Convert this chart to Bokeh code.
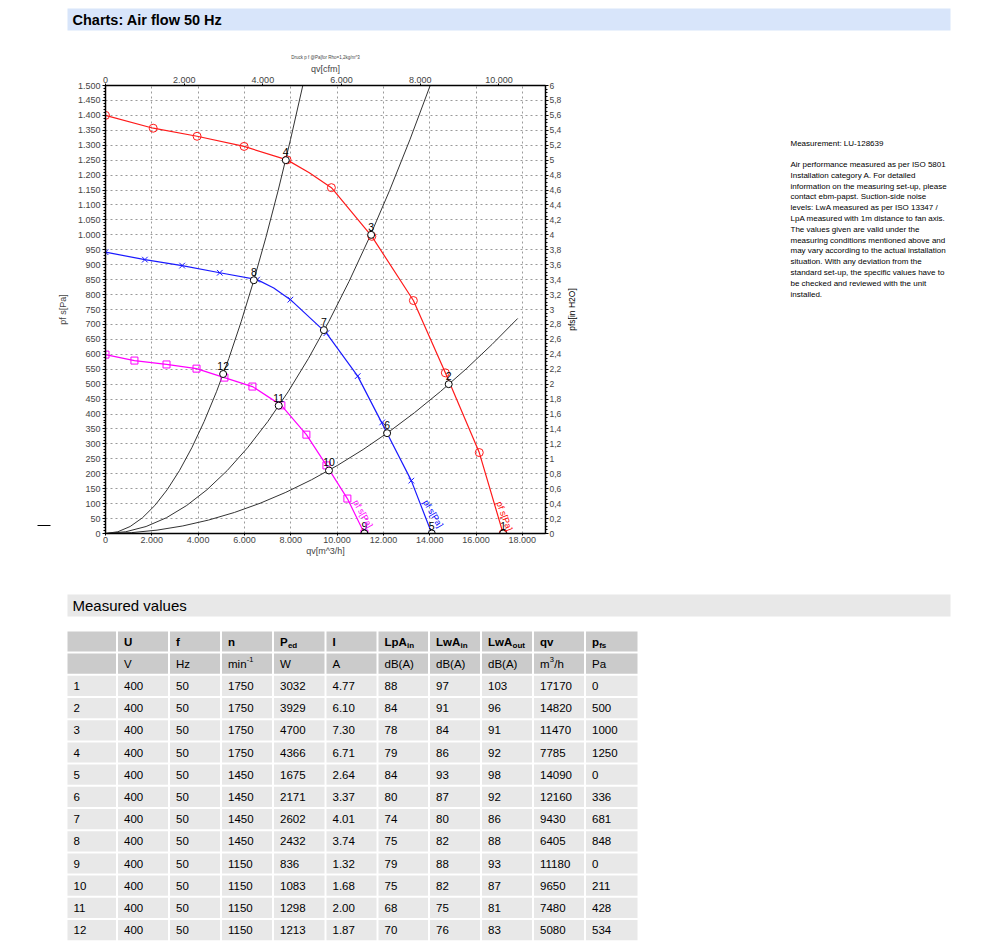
import math
from bokeh.plotting import figure
from bokeh.models import Range1d, LinearAxis, FixedTicker, Grid, CustomJSTickFormatter
from bokeh.layouts import column, row
from bokeh.core.properties import value
from bokeh.embed import file_html
from bokeh.resources import INLINE

FONT = "Liberation Sans"

# ---------------- data ----------------
# fan curves (qv in m^3/h, static pressure in Pa)
red_q = [0, 2060, 3955, 5985, 7840, 8800, 9755, 11500, 13295, 14675, 16140, 17170]
red_p = [1400, 1357, 1330, 1296, 1251, 1208, 1158, 995, 780, 538, 271, 0]
red_mq = [0, 2060, 3955, 5985, 7840, 9755, 11500, 13295, 14675, 16140, 17170]
red_mp = [1400, 1357, 1330, 1296, 1251, 1158, 995, 780, 538, 271, 0]

blue_q = [0, 1700, 3310, 4935, 6545, 7265, 7985, 9540, 10890, 12160, 13205, 14090]
blue_p = [942, 917, 897, 873, 850, 822, 783, 671, 527, 336, 177, 0]
blue_mq = [0, 1700, 3310, 4935, 6545, 7985, 9540, 10890, 11950, 13205, 14090]
blue_mp = [942, 917, 897, 873, 850, 783, 671, 527, 372, 177, 0]

mag_q = [0, 1250, 2635, 3930, 5135, 6345, 7595, 8675, 9540, 10445, 11180]
mag_p = [599, 579, 566, 552, 522, 492, 429, 331, 228, 117, 0]

# system curves (parabolas through origin), end points
sys_q_end = [8520, 14020, 17800]
sys_p_end = [1500, 1500, 720]

# curve labels
lab_text = ["pf s[Pa]", "pf s[Pa]", "pf s[Pa]"]
lab_q = [10790, 13810, 17000]
lab_p = [110, 110, 106]
lab_color = ["#ff00ff", "#0000ff", "#ff0000"]
lab_angle = [-1.06, -1.04, -1.22]

# measured values table
pt_no = [1, 2, 3, 4, 5, 6, 7, 8, 9, 10, 11, 12]
U_V = [400, 400, 400, 400, 400, 400, 400, 400, 400, 400, 400, 400]
f_Hz = [50, 50, 50, 50, 50, 50, 50, 50, 50, 50, 50, 50]
n_rpm = [1750, 1750, 1750, 1750, 1450, 1450, 1450, 1450, 1150, 1150, 1150, 1150]
P_ed = [3032, 3929, 4700, 4366, 1675, 2171, 2602, 2432, 836, 1083, 1298, 1213]
I_A = [4.77, 6.10, 7.30, 6.71, 2.64, 3.37, 4.01, 3.74, 1.32, 1.68, 2.00, 1.87]
LpA_in = [88, 84, 78, 79, 84, 80, 74, 75, 79, 75, 68, 70]
LwA_in = [97, 91, 84, 86, 93, 87, 80, 82, 88, 82, 75, 76]
LwA_out = [103, 96, 91, 92, 98, 92, 86, 88, 93, 87, 81, 83]
qv = [17170, 14820, 11470, 7785, 14090, 12160, 9430, 6405, 11180, 9650, 7480, 5080]
pfs = [0, 500, 1000, 1250, 0, 336, 681, 848, 0, 211, 428, 534]

hdr1 = ["", "U", "f", "n", "P", "I", "LpA", "LwA", "LwA", "qv", "p"]
hdr1_sub = ["", "", "", "", "ed", "", "in", "in", "out", "", "fs"]
hdr2 = ["", "V", "Hz", "min", "W", "A", "dB(A)", "dB(A)", "dB(A)", "m", "Pa"]
hdr2_sup = ["", "", "", "-1", "", "", "", "", "", "3", ""]

info_title = "Measurement: LU-128639"
info_lines = [
    "Air performance measured as per ISO 5801",
    "Installation category A. For detailed",
    "information on the measuring set-up, please",
    "contact ebm-papst. Suction-side noise",
    "levels: LwA measured as per ISO 13347 /",
    "LpA measured with 1m distance to fan axis.",
    "The values given are valid under the",
    "measuring conditions mentioned above and",
    "may vary according to the actual installation",
    "situation. With any deviation from the",
    "standard set-up, the specific values have to",
    "be checked and reviewed with the unit",
    "installed.",
]

# ---------------- helpers ----------------
def page_fig(w, h, x0, x1, y0, y1):
    f = figure(width=w, height=h, x_range=Range1d(x0, x1), y_range=Range1d(y1, y0),
               output_backend="svg", toolbar_location=None, min_border=0,
               x_axis_type=None, y_axis_type=None, outline_line_color=None,
               background_fill_color="white", border_fill_color="white")
    return f

# chart frame in page pixels (row members get their frames aligned to it)
FR_TOP, FR_BOT = 85, 533

# ---------------- header ----------------
hdr = page_fig(992, 40, 0, 992, 0, 40)
hdr.quad(left=[67], right=[950], top=[8], bottom=[30], fill_color="#d8e5fa", line_color=None)
hdr.text(x=[72], y=[19.5], text=["Charts: Air flow 50 Hz"], text_font=value(FONT),
         text_font_size="14.5px", text_font_style="bold", text_baseline="middle", text_color="black")

# ---------------- left strip ----------------
lf = page_fig(54, 535, 0, 54, FR_TOP, FR_BOT)
lf.segment(x0=[37], y0=[525], x1=[50], y1=[525], line_color="black", line_width=1)

# ---------------- chart ----------------
CFM = 1.699
p = figure(width=513, height=535, x_range=Range1d(0, 19000), y_range=Range1d(0, 1500),
           output_backend="svg", toolbar_location=None, x_axis_type=None, y_axis_type=None,
           min_border_left=51, min_border_right=22, min_border_top=45, min_border_bottom=42,
           outline_line_color="black", outline_line_width=1,
           background_fill_color="white", border_fill_color="white")
p.extra_x_ranges = {"cfm": Range1d(0, 19000 / CFM)}
p.extra_y_ranges = {"inh2o": Range1d(0, 6)}

p.title.text = "Druck p f @Pa]for Rho=1,2kg/m^3"
p.title.align = "center"
p.title.text_font = FONT
p.title.text_font_size = "4.5px"
p.title.text_font_style = "normal"
p.title.standoff = 1

thousands = CustomJSTickFormatter(code="""
const s = Math.round(tick).toString();
return s.length > 3 ? s.slice(0, -3) + '.' + s.slice(-3) : s;
""")
comma = CustomJSTickFormatter(code="""
let s = tick.toFixed(1);
if (s.endsWith('.0')) { s = s.slice(0, -2); }
return s.replace('.', ',');
""")

xt = FixedTicker(ticks=list(range(0, 18001, 2000)), minor_ticks=[])
yt = FixedTicker(ticks=list(range(0, 1501, 50)), minor_ticks=list(range(0, 1501, 10)))
ct = FixedTicker(ticks=list(range(0, 10001, 2000)), minor_ticks=[])
rt = FixedTicker(ticks=[round(0.2 * i, 1) for i in range(31)],
                 minor_ticks=[round(0.05 * i, 2) for i in range(121)])

def style_axis(ax, size="9px"):
    ax.major_label_text_font = FONT
    ax.major_label_text_font_size = size
    ax.axis_label_text_font = FONT
    ax.axis_label_text_font_size = "9px"
    ax.axis_label_text_font_style = "normal"
    ax.axis_line_color = "black"
    ax.axis_line_width = 1.5
    ax.major_tick_line_color = "black"
    ax.minor_tick_line_color = "black"
    ax.major_tick_in = 0
    ax.minor_tick_in = 0
    ax.major_tick_out = 3
    ax.minor_tick_out = 2

bottom = LinearAxis(ticker=xt, formatter=thousands, axis_label="qv[m^3/h]")
style_axis(bottom)
bottom.major_tick_out = 2
bottom.major_label_standoff = 1
bottom.axis_label_standoff = 0
p.add_layout(bottom, "below")

top = LinearAxis(x_range_name="cfm", ticker=ct, formatter=thousands, axis_label="qv[cfm]")
style_axis(top)
top.major_tick_out = 2
top.major_label_standoff = 1
top.axis_label_standoff = 0
p.add_layout(top, "above")

left = LinearAxis(ticker=yt, formatter=thousands, axis_label="pf s[Pa]")
style_axis(left)
left.major_label_standoff = 2
left.axis_label_standoff = 7
p.add_layout(left, "left")

right = LinearAxis(y_range_name="inh2o", ticker=rt, formatter=comma)
style_axis(right, "8.5px")
right.major_label_standoff = 1
p.add_layout(right, "right")

p.add_layout(Grid(dimension=0, ticker=xt, grid_line_color="#9a9a9a", grid_line_dash="2 3",
                  grid_line_width=1))
p.add_layout(Grid(dimension=1, ticker=yt, grid_line_color="#9a9a9a", grid_line_dash="2 3",
                  grid_line_width=1))

# system curves: y = k*q^2 drawn as exact quadratic Bezier from the origin
p.quadratic(x0=[0] * len(sys_q_end), y0=[0] * len(sys_q_end), x1=sys_q_end, y1=sys_p_end,
            cx=[q / 2 for q in sys_q_end], cy=[0] * len(sys_q_end),
            line_color="#333333", line_width=1)

# fan curves
p.line(red_q, red_p, line_color="#ff1a1a", line_width=1.2)
p.scatter(red_mq, red_mp, marker="circle", size=8, fill_color=None, line_color="#ff1a1a", line_width=1)
p.line(blue_q, blue_p, line_color="#1a1aff", line_width=1.2)
p.scatter(blue_mq, blue_mp, marker="x", size=8, line_color="#1a1aff", line_width=1)
p.line(mag_q, mag_p, line_color="#ff00ff", line_width=1.2)
p.scatter(mag_q, mag_p, marker="square", size=7, fill_color=None, line_color="#ff00ff", line_width=1)

# operating points
p.scatter(qv, pfs, marker="circle", size=7, fill_color="white", line_color="black", line_width=1)
p.text(qv, pfs, text=[str(n) for n in pt_no], text_font=value(FONT), text_font_size="10.5px",
       text_align="center", text_baseline="middle", y_offset=-8, text_color="black")

# curve labels
for t, q, pp, c, a in zip(lab_text, lab_q, lab_p, lab_color, lab_angle):
    p.text([q], [pp], text=[t], angle=a, text_font=value(FONT), text_font_size="9px",
           text_align="left", text_baseline="middle", text_color=c)

# ---------------- right-side text ----------------
tf = page_fig(425, 535, 567, 992, FR_TOP, FR_BOT)
tf.text(x=[571.5], y=[309], text=["pfs[in H2O]"], angle=math.pi / 2, text_font=value(FONT),
        text_font_size="8.5px", text_align="center", text_baseline="middle", text_color="black")
tf.text(x=[790], y=[143], text=[info_title], text_font=value(FONT), text_font_size="8px",
        text_baseline="middle", text_color="black")
tf.text(x=[790] * len(info_lines), y=[164 + 10.8 * i for i in range(len(info_lines))],
        text=info_lines, text_font=value(FONT), text_font_size="8px",
        text_baseline="middle", text_color="black")

# ---------------- table ----------------
tb = page_fig(992, 371, 0, 992, 575, 946)
tb.quad(left=[67], right=[950], top=[594], bottom=[616], fill_color="#e8e8e8", line_color=None)
tb.text(x=[72], y=[605], text=["Measured values"], text_font=value(FONT), text_font_size="15px",
        text_baseline="middle", text_color="black")

col_left = [67, 117.5, 169.5, 221.5, 273.5, 326, 378, 429.5, 481.5, 533.5, 585.5]
col_right = [c - 2 for c in col_left[1:]] + [637]
row_c = [641 + 22.2 * i for i in range(14)]

ql, qr, qt, qb, qc = [], [], [], [], []
for r, yc in enumerate(row_c):
    for c in range(len(col_left)):
        ql.append(col_left[c]); qr.append(col_right[c])
        qt.append(yc - 10.1); qb.append(yc + 10.1)
        qc.append("#cbcbcb" if r < 2 else "#e8e8e8")
tb.quad(left=ql, right=qr, top=qt, bottom=qb, fill_color=qc, line_color=None)

TX = 6
FS = "11.5px"
tx = [c + TX for c in col_left]
# header row 1 (bold with subscripts)
tb.text(x=tx, y=[row_c[0]] * len(tx), text=hdr1, text_font=value(FONT), text_font_size=FS,
        text_font_style="bold", text_baseline="middle", text_color="black")
sub_off = [0, 0, 0, 0, 7.9, 0, 22.6, 24.5, 24.5, 0, 7.2]
tb.text(x=[x + o for x, o in zip(tx, sub_off)], y=[row_c[0] + 4] * len(tx), text=hdr1_sub,
        text_font=value(FONT), text_font_size="8px", text_font_style="bold",
        text_baseline="middle", text_color="black")
# header row 2 (units with superscripts)
tb.text(x=tx, y=[row_c[1]] * len(tx), text=hdr2, text_font=value(FONT), text_font_size=FS,
        text_baseline="middle", text_color="black")
sup_off = [0, 0, 0, 18.8, 0, 0, 0, 0, 0, 9.8, 0]
tb.text(x=[x + o for x, o in zip(tx, sup_off)], y=[row_c[1] - 4] * len(tx), text=hdr2_sup,
        text_font=value(FONT), text_font_size="7.5px", text_baseline="middle", text_color="black")
tb.text(x=[tx[9] + 14.3], y=[row_c[1]], text=["/h"], text_font=value(FONT), text_font_size=FS,
        text_baseline="middle", text_color="black")

dx, dy, dt = [], [], []
for i in range(len(pt_no)):
    vals = [str(pt_no[i]), str(U_V[i]), str(f_Hz[i]), str(n_rpm[i]), str(P_ed[i]), f"{I_A[i]:.2f}",
            str(LpA_in[i]), str(LwA_in[i]), str(LwA_out[i]), str(qv[i]), str(pfs[i])]
    for c, v in enumerate(vals):
        dx.append(tx[c]); dy.append(row_c[i + 2]); dt.append(v)
tb.text(x=dx, y=dy, text=dt, text_font=value(FONT), text_font_size=FS,
        text_baseline="middle", text_color="black")

layout = column(hdr, row(lf, p, tf), tb)
open("out.html", "w").write(file_html(layout, INLINE))
